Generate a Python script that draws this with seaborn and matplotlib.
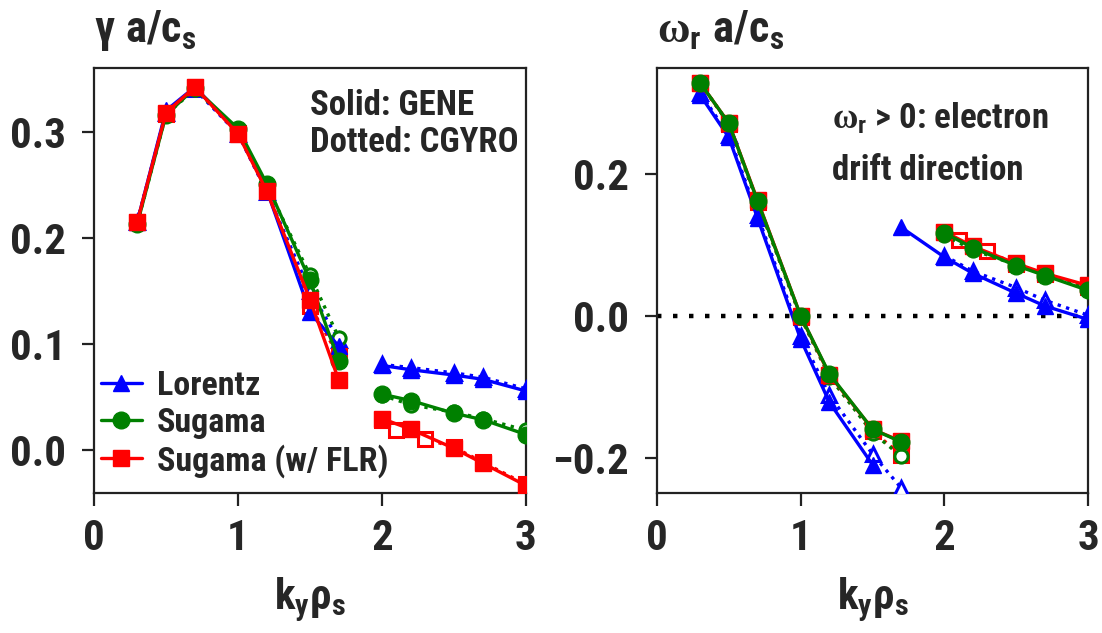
import matplotlib
matplotlib.use("Agg")
import matplotlib.pyplot as plt
import seaborn as sns
from matplotlib import font_manager as fm

# ---------------- data ----------------
ky_low = [0.3, 0.5, 0.7, 1.0, 1.2, 1.5, 1.7]
ky_high = [2.0, 2.2, 2.5, 2.7, 3.0]
ky_high_flr_cgyro = [2.0, 2.1, 2.3, 2.5, 2.7, 3.0]

# growth rate gamma a/cs
gam_gene_lor_low = [0.215, 0.320, 0.342, 0.300, 0.245, 0.130, 0.098]
gam_cgyro_lor_low = [0.215, 0.318, 0.340, 0.298, 0.243, 0.150, 0.104]
gam_gene_sug_low = [0.213, 0.316, 0.341, 0.303, 0.251, 0.160, 0.084]
gam_cgyro_sug_low = [0.213, 0.316, 0.340, 0.301, 0.249, 0.165, 0.106]
gam_gene_flr_low = [0.215, 0.318, 0.342, 0.298, 0.244, 0.142, 0.066]
gam_cgyro_flr_low = [0.215, 0.317, 0.342, 0.299, 0.246, 0.136, 0.089]

gam_gene_lor_high = [0.080, 0.076, 0.071, 0.067, 0.056]
gam_cgyro_lor_high = [0.081, 0.078, 0.073, 0.069, 0.058]
gam_gene_sug_high = [0.053, 0.047, 0.035, 0.029, 0.015]
gam_cgyro_sug_high = [0.052, 0.043, 0.036, 0.030, 0.019]
gam_gene_flr_high = [0.030, 0.020, 0.002, -0.012, -0.033]
gam_cgyro_flr_high = [0.029, 0.019, 0.011, 0.003, -0.011, -0.032]

# real frequency omega_r a/cs
ky_low_lor_gene = [0.3, 0.5, 0.7, 1.0, 1.2, 1.5]
ky_high_lor_gene = [1.7, 2.0, 2.2, 2.5, 2.7, 3.0]
om_gene_lor_low = [0.312, 0.252, 0.138, -0.033, -0.122, -0.210]
om_cgyro_lor_low = [0.315, 0.255, 0.142, -0.028, -0.112, -0.195, -0.243]
om_gene_sug_low = [0.329, 0.272, 0.162, 0.000, -0.082, -0.160, -0.178]
om_cgyro_sug_low = [0.329, 0.271, 0.160, -0.002, -0.086, -0.165, -0.198]
om_gene_flr_low = [0.329, 0.272, 0.163, 0.000, -0.083, -0.160, -0.177]
om_cgyro_flr_low = [0.329, 0.271, 0.161, -0.001, -0.085, -0.163, -0.196]

om_gene_lor_high = [0.125, 0.083, 0.060, 0.032, 0.014, -0.005]
om_cgyro_lor_high = [0.085, 0.063, 0.040, 0.022, 0.001]
om_gene_sug_high = [0.117, 0.096, 0.071, 0.057, 0.036]
om_cgyro_sug_high = [0.114, 0.093, 0.072, 0.058, 0.038]
om_gene_flr_high = [0.119, 0.098, 0.074, 0.060, 0.043]
om_cgyro_flr_high = [0.118, 0.107, 0.091, 0.073, 0.059, 0.041]

labels = ["Lorentz", "Sugama", "Sugama (w/ FLR)"]
x_ticks = [0, 1, 2, 3]
gam_ticks = [0.0, 0.1, 0.2, 0.3]
om_ticks = [-0.2, 0.0, 0.2]

# ---------------- style ----------------
sns.set_theme(style="ticks")


def _w(f):
    return f.weight if isinstance(f.weight, int) else fm.weight_dict.get(f.weight, 400)


def pick_condensed():
    names = {f.name for f in fm.fontManager.ttflist}
    if "Liberation Sans Narrow" in names:
        return "Liberation Sans Narrow", "normal"
    for key in ["roboto condensed", "noto sans", "open sans", "roboto", "inter", "lato"]:
        for f in fm.fontManager.ttflist:
            nm = f.name.lower()
            if not nm.startswith(key):
                continue
            if "cjk" in nm or "mono" in nm:
                continue
            cond = ("condensed" in nm or "narrow" in nm
                    or f.stretch in ("condensed", "semi-condensed", "extra-condensed"))
            if cond and _w(f) >= 600 and f.style == "normal":
                return f.name, f.stretch
    return None, None


cond_font, cond_stretch = pick_condensed()
if cond_font:
    main_font = cond_font
    FS_TICK, FS_LAB, FS_TITLE, FS_LEG, FS_ANN = 31, 31, 32, 24.5, 25
else:
    main_font = "Liberation Sans"
    cond_stretch = "normal"
    FS_TICK, FS_LAB, FS_TITLE, FS_LEG, FS_ANN = 28, 29, 28, 21, 21

plt.rcParams["font.family"] = [main_font, "DejaVu Sans"]
plt.rcParams["font.weight"] = "bold"
plt.rcParams["font.stretch"] = cond_stretch
pat = f"{main_font}:weight=bold:stretch={cond_stretch}"
plt.rcParams["mathtext.fontset"] = "custom"
plt.rcParams["mathtext.rm"] = pat
plt.rcParams["mathtext.it"] = pat
plt.rcParams["mathtext.bf"] = pat
plt.rcParams["mathtext.sf"] = "Liberation Serif:weight=bold"
plt.rcParams["mathtext.default"] = "rm"

BLUE, GREEN, RED = "#0000ff", "#008000", "#ff0000"
colors = [BLUE, GREEN, RED]
markers = ["^", "o", "s"]
LW = 2.4
MS = 12
MS_OPEN = 9.5

fig = plt.figure(figsize=(11.02, 6.33), dpi=100)
ax1 = fig.add_axes([0.0853, 0.2212, 0.392, 0.6714])
ax2 = fig.add_axes([0.5962, 0.2212, 0.3911, 0.6714])


def solid(ax, x, y, c, m, z=4):
    sns.lineplot(x=x, y=y, ax=ax, color=c, marker=m, markersize=MS,
                 linewidth=LW, markeredgecolor=c, markeredgewidth=1,
                 sort=False, estimator=None, zorder=z)
    return ax.lines[-1]


def dotted(ax, x, y, c, m, z=3):
    sns.lineplot(x=x, y=y, ax=ax, color=c, marker=m, markersize=MS_OPEN,
                 linewidth=LW, linestyle=":", markerfacecolor="white",
                 markeredgecolor=c, markeredgewidth=2.2,
                 sort=False, estimator=None, zorder=z)
    return ax.lines[-1]


# ---- left panel: growth rate ----
gl = [gam_gene_lor_low, gam_gene_sug_low, gam_gene_flr_low]
cl = [gam_cgyro_lor_low, gam_cgyro_sug_low, gam_cgyro_flr_low]
gh = [gam_gene_lor_high, gam_gene_sug_high, gam_gene_flr_high]
ch = [gam_cgyro_lor_high, gam_cgyro_sug_high, gam_cgyro_flr_high]
ch_x = [ky_high, ky_high, ky_high_flr_cgyro]
handles = []
for i in range(3):
    dotted(ax1, ky_low, cl[i], colors[i], markers[i])
    dotted(ax1, ch_x[i], ch[i], colors[i], markers[i])
for i in range(3):
    h = solid(ax1, ky_low, gl[i], colors[i], markers[i])
    handles.append(h)
    solid(ax1, ky_high, gh[i], colors[i], markers[i])

ax1.set_xlim(0, 3)
ax1.set_ylim(-0.04, 0.36)
ax1.set_xticks(x_ticks)
ax1.set_yticks(gam_ticks)
ax1.set_yticklabels([f"{v:.1f}" for v in gam_ticks])
ax1.text(0.0, 1.06, r"$\mathrm{\gamma\ a/c_s}$", transform=ax1.transAxes,
         fontsize=FS_TITLE, ha="left", va="baseline")
ax1.text(0.5, 0.95, "Solid: GENE\nDotted: CGYRO", transform=ax1.transAxes,
         fontsize=FS_ANN, ha="left", va="top", linespacing=1.15)
leg = ax1.legend(handles, labels, loc="lower left", bbox_to_anchor=(0.0, 0.02),
                 frameon=False, fontsize=FS_LEG, handlelength=1.2, handletextpad=0.45,
                 labelspacing=0.14, borderpad=0.1, borderaxespad=0.1)

# ---- right panel: real frequency ----
ax2.axhline(0.0, color="black", linewidth=3.2, linestyle=(0, (1, 2.6)),
            dash_capstyle="butt", zorder=2)
# CGYRO (dotted) first
dotted(ax2, ky_low, om_cgyro_lor_low, BLUE, "^")
dotted(ax2, ky_high, om_cgyro_lor_high, BLUE, "^")
dotted(ax2, ky_low, om_cgyro_flr_low, RED, "s")
dotted(ax2, ky_high_flr_cgyro, om_cgyro_flr_high, RED, "s")
dotted(ax2, ky_low, om_cgyro_sug_low, GREEN, "o")
dotted(ax2, ky_high, om_cgyro_sug_high, GREEN, "o")
# GENE (solid)
solid(ax2, ky_low_lor_gene, om_gene_lor_low, BLUE, "^")
solid(ax2, ky_high_lor_gene, om_gene_lor_high, BLUE, "^")
solid(ax2, ky_low, om_gene_flr_low, RED, "s")
solid(ax2, ky_high, om_gene_flr_high, RED, "s")
solid(ax2, ky_low, om_gene_sug_low, GREEN, "o", z=5)
solid(ax2, ky_high, om_gene_sug_high, GREEN, "o", z=5)

ax2.set_xlim(0, 3)
ax2.set_ylim(-0.25, 0.35)
ax2.set_xticks(x_ticks)
ax2.set_yticks(om_ticks)
ax2.set_yticklabels(["\u22120.2", "0.0", "0.2"])
ax2.text(0.0, 1.06, r"$\mathsf{\omega}_\mathrm{r}\mathrm{\ a/c_s}$",
         transform=ax2.transAxes, fontsize=FS_TITLE, ha="left", va="baseline")
ax2.text(0.405, 0.925, "$\\mathsf{\\omega}_\\mathrm{r}$ > 0: electron\ndrift direction",
         transform=ax2.transAxes, fontsize=FS_ANN, ha="left", va="top", linespacing=1.7)

for ax in (ax1, ax2):
    ax.set_xlabel(r"$\mathrm{k_y\rho_s}$", fontsize=FS_LAB, labelpad=12)
    ax.set_ylabel("")
    ax.tick_params(axis="both", labelsize=FS_TICK, length=9, width=1.6,
                   direction="out", color="#222222")
    ax.tick_params(axis="x", pad=9)
    ax.tick_params(axis="y", pad=11)
    for lab in ax.get_xticklabels() + ax.get_yticklabels():
        lab.set_fontweight("bold")
    for s in ax.spines.values():
        s.set_linewidth(1.6)
        s.set_color("#222222")

fig.savefig("out.png", dpi=100)
